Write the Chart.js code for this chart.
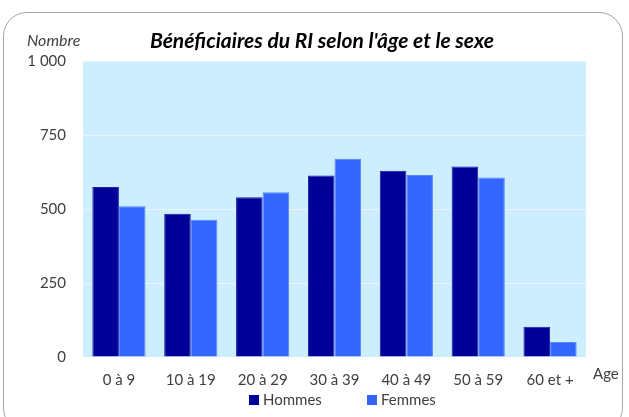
<!DOCTYPE html>
<html>
<head>
<meta charset="utf-8">
<script src="https://cdn.jsdelivr.net/npm/chart.js@4"></script>
<style>
  html, body { margin: 0; padding: 0; background: #fff; overflow: hidden; }
  #wrap { position: relative; width: 629px; height: 417px; }
  #frame {
    position: absolute; left: 3px; top: 12px; width: 620px; height: 420px;
    border: 1px solid #a6a6a6; border-radius: 24px; box-sizing: border-box;
  }
  canvas { position: absolute; left: 0; top: 0; }
</style>
</head>
<body>
<div id="wrap">
  <div id="frame"></div>
  <canvas id="chart" width="629" height="417"></canvas>
</div>
<script>
const categories = ["0 à 9", "10 à 19", "20 à 29", "30 à 39", "40 à 49", "50 à 59", "60 et +"];
const hommes = [574, 484, 540, 613, 629, 644, 102];
const femmes = [509, 464, 557, 670, 615, 606, 51];
const yTicks = [0, 250, 500, 750, 1000];

const FONT = "Lato, 'Open Sans', sans-serif";
const TEXT = "#404040";

// plot background + texts around the chart
const decor = {
  id: "decor",
  beforeDraw(chart) {
    const { ctx, chartArea: a } = chart;
    ctx.save();
    ctx.fillStyle = "#cceeff";
    ctx.fillRect(a.left, a.top, a.right - a.left, a.bottom - a.top);
    ctx.restore();
  },
  afterDraw(chart) {
    const { ctx } = chart;
    ctx.save();
    ctx.textBaseline = "middle";

    ctx.fillStyle = "#000";
    ctx.textAlign = "center";
    ctx.font = "italic bold 21px " + FONT;
    ctx.fillText("Bénéficiaires du RI selon l'âge et le sexe", 322, 41);

    ctx.fillStyle = TEXT;
    ctx.textAlign = "left";
    ctx.font = "italic 16px " + FONT;
    ctx.fillText("Nombre", 27, 41);

    ctx.font = "15px " + FONT;
    ctx.fillText("Age", 593, 374);

    // legend
    const items = [
      { x: 249, ds: chart.data.datasets[0] },
      { x: 367, ds: chart.data.datasets[1] },
    ];
    items.forEach((it) => {
      ctx.fillStyle = it.ds.backgroundColor;
      ctx.fillRect(it.x, 395, 10, 10);
      ctx.fillStyle = TEXT;
      ctx.fillText(it.ds.label, it.x + 14, 400);
    });
    ctx.restore();
  },
};

new Chart(document.getElementById("chart"), {
  type: "bar",
  data: {
    labels: categories,
    datasets: [
      {
        label: "Hommes",
        data: hommes,
        backgroundColor: "#000099",
        borderColor: "#1f1fa3",
        borderWidth: 1,
      },
      {
        label: "Femmes",
        data: femmes,
        backgroundColor: "#3366ff",
        borderColor: "#5a85ff",
        borderWidth: 1,
      },
    ],
  },
  options: {
    responsive: false,
    devicePixelRatio: 1,
    animation: false,
    layout: { padding: { left: 0, right: 43, top: 61, bottom: 0 } },
    datasets: {
      bar: { categoryPercentage: 0.74, barPercentage: 1 },
    },
    scales: {
      x: {
        grid: { display: false, drawTicks: false },
        border: { display: false },
        ticks: {
          color: TEXT,
          font: { family: FONT, size: 15 },
          padding: 14,
          maxRotation: 0,
        },
        afterFit(scale) {
          scale.height = 60;
        },
      },
      y: {
        min: 0,
        max: 1000,
        grid: { color: "rgba(255,255,255,0.55)", drawTicks: false },
        border: { display: false },
        afterBuildTicks(scale) {
          scale.ticks = yTicks.map((v) => ({ value: v }));
        },
        ticks: {
          color: TEXT,
          font: { family: FONT, size: 15 },
          padding: 17,
          callback: (v) => String(v).replace(/\B(?=(\d{3})+(?!\d))/g, " "),
        },
        afterFit(scale) {
          scale.width = 83;
        },
      },
    },
    plugins: {
      legend: { display: false },
      tooltip: { enabled: false },
    },
  },
  plugins: [decor],
});
</script>
</body>
</html>
